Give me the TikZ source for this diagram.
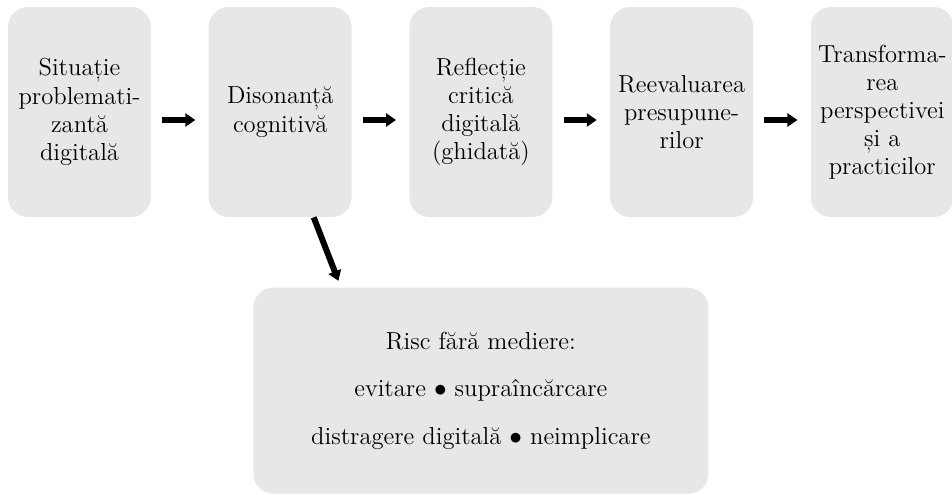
\documentclass[tikz,border=0pt]{standalone}
\usepackage{tikz}
\usetikzlibrary{arrows.meta, positioning}

\definecolor{boxgray}{RGB}{230,231,232}

\begin{document}
\begin{tikzpicture}[
    stage/.style={fill=boxgray, rounded corners=0.4cm, minimum width=2.86cm, minimum height=4.2cm,
        inner sep=0pt, align=center, font=\fontsize{14}{16}\selectfont},
    flow/.style={-{Triangle[length=0.2cm, width=0.26cm]}, line width=0.12cm,
        shorten <=0.22cm, shorten >=0.26cm}
]
    \useasboundingbox (0,0) rectangle (19.04,-9.9);

    % Stages of the process
    \node[stage] (situatie) at (1.59,-2.24) {Situație\\problemati-\\zantă\\digitală};
    \node[stage, right=1.14cm of situatie] (disonanta) {Disonanță\\cognitivă};
    \node[stage, right=1.14cm of disonanta] (reflectie) {Reflecție\\critică\\digitală\\(ghidată)};
    \node[stage, right=1.14cm of reflectie] (reevaluare) {Reevaluarea\\presupune-\\rilor};
    \node[stage, right=1.14cm of reevaluare] (transformare) {Transforma-\\rea\\perspectivei\\și a\\practicilor};

    % Risk box
    \node[stage, below=1.4cm of reflectie, minimum width=9.1cm, minimum height=4.12cm,
        font=\fontsize{14}{27}\selectfont] (risc)
        {Risc fără mediere:\\evitare $\bullet$ supraîncărcare\\distragere digitală $\bullet$ neimplicare};

    % Arrows
    \draw[flow] ([yshift=-0.16cm]situatie.east) -- ([yshift=-0.16cm]disonanta.west);
    \draw[flow] ([yshift=-0.16cm]disonanta.east) -- ([yshift=-0.16cm]reflectie.west);
    \draw[flow] ([yshift=-0.16cm]reflectie.east) -- ([yshift=-0.16cm]reevaluare.west);
    \draw[flow] ([yshift=-0.16cm]reevaluare.east) -- ([yshift=-0.16cm]transformare.west);
    \draw[flow, shorten <=0pt, shorten >=0.14cm] ([xshift=0.67cm]disonanta.south) -- ([xshift=-2.8cm]risc.north);
\end{tikzpicture}
\end{document}
